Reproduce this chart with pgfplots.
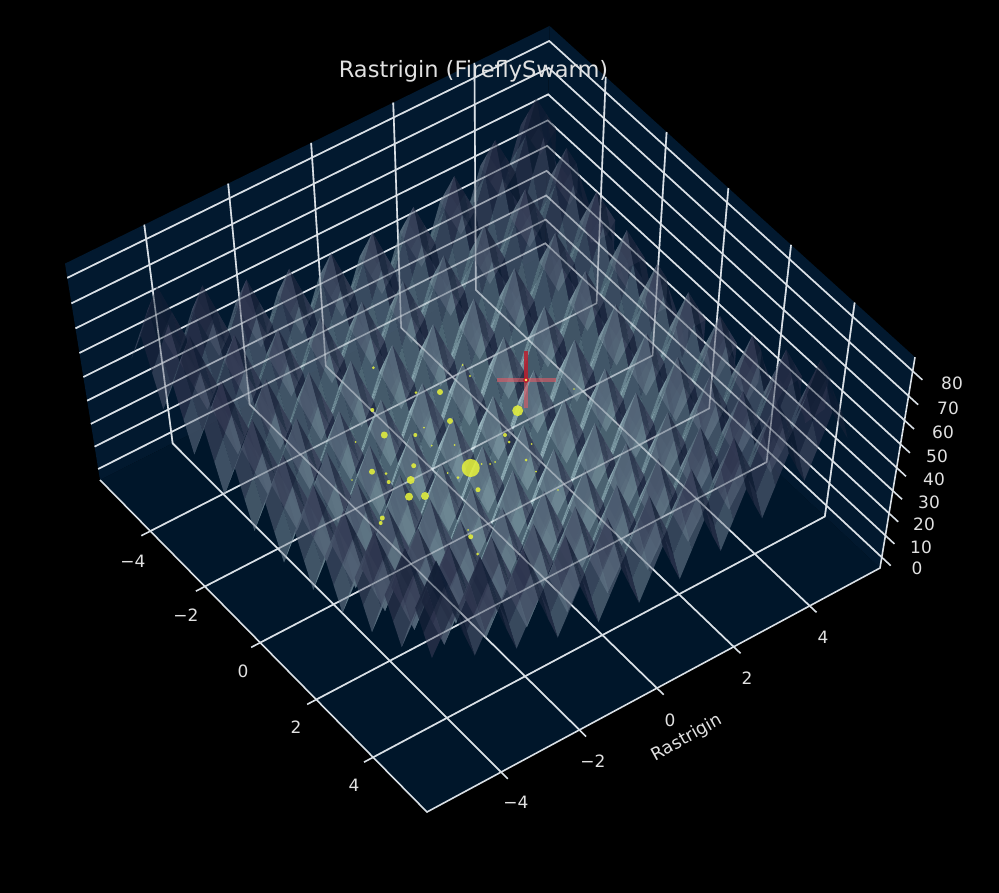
\documentclass[border=0pt]{standalone}
\usepackage{fontspec}
\setmainfont{DejaVu Sans}
\usepackage{pgfplots}
\usepackage{pgfplotstable}
\pgfplotsset{compat=1.18}
\definecolor{pfloor}{RGB}{0,22,42}
\definecolor{pwall}{RGB}{2,25,47}
\definecolor{gl}{RGB}{218,224,230}
\definecolor{txt}{RGB}{225,225,225}
\definecolor{ffy}{RGB}{228,240,60}
\definecolor{crossa}{RGB}{185,30,45}
\definecolor{crossb}{RGB}{225,90,100}
\pgfplotstableread{z
50
57.6
65.3
53.1
41
49.1
57.3
45.6
34
42.6
51.3
40.1
29
38.1
47.3
36.6
26
35.6
45.3
35.1
25
35.1
45.3
35.6
26
36.6
47.3
38.1
29
40.1
51.3
42.6
34
45.6
57.3
49.1
41
53.1
65.3
57.6
50
57.6
65.2
72.9
60.7
48.6
56.7
64.9
53.2
41.6
50.2
58.9
47.7
36.6
45.7
54.9
44.2
33.6
43.2
52.9
42.7
32.6
42.7
52.9
43.2
33.6
44.2
54.9
45.7
36.6
47.7
58.9
50.2
41.6
53.2
64.9
56.7
48.6
60.7
72.9
65.2
57.6
65.3
72.9
80.6
68.4
56.3
64.4
72.6
60.9
49.3
57.9
66.6
55.4
44.3
53.4
62.6
51.9
41.3
50.9
60.6
50.4
40.3
50.4
60.6
50.9
41.3
51.9
62.6
53.4
44.3
55.4
66.6
57.9
49.3
60.9
72.6
64.4
56.3
68.4
80.6
72.9
65.3
53.1
60.7
68.4
56.2
44.1
52.2
60.4
48.7
37.1
45.7
54.4
43.2
32.1
41.2
50.4
39.7
29.1
38.7
48.4
38.2
28.1
38.2
48.4
38.7
29.1
39.7
50.4
41.2
32.1
43.2
54.4
45.7
37.1
48.7
60.4
52.2
44.1
56.2
68.4
60.7
53.1
41
48.6
56.3
44.1
32
40.1
48.3
36.6
25
33.6
42.3
31.1
20
29.1
38.3
27.6
17
26.6
36.3
26.1
16
26.1
36.3
26.6
17
27.6
38.3
29.1
20
31.1
42.3
33.6
25
36.6
48.3
40.1
32
44.1
56.3
48.6
41
49.1
56.7
64.4
52.2
40.1
48.2
56.4
44.7
33.1
41.7
50.4
39.2
28.1
37.2
46.4
35.7
25.1
34.7
44.4
34.2
24.1
34.2
44.4
34.7
25.1
35.7
46.4
37.2
28.1
39.2
50.4
41.7
33.1
44.7
56.4
48.2
40.1
52.2
64.4
56.7
49.1
57.3
64.9
72.6
60.4
48.3
56.4
64.6
52.9
41.3
49.9
58.6
47.4
36.3
45.4
54.6
43.9
33.3
42.9
52.6
42.4
32.3
42.4
52.6
42.9
33.3
43.9
54.6
45.4
36.3
47.4
58.6
49.9
41.3
52.9
64.6
56.4
48.3
60.4
72.6
64.9
57.3
45.6
53.2
60.9
48.7
36.6
44.7
52.9
41.2
29.6
38.2
46.9
35.7
24.6
33.7
42.9
32.2
21.6
31.2
40.9
30.7
20.6
30.7
40.9
31.2
21.6
32.2
42.9
33.7
24.6
35.7
46.9
38.2
29.6
41.2
52.9
44.7
36.6
48.7
60.9
53.2
45.6
34
41.6
49.3
37.1
25
33.1
41.3
29.6
18
26.6
35.3
24.1
13
22.1
31.3
20.6
10
19.6
29.3
19.1
9
19.1
29.3
19.6
10
20.6
31.3
22.1
13
24.1
35.3
26.6
18
29.6
41.3
33.1
25
37.1
49.3
41.6
34
42.6
50.2
57.9
45.7
33.6
41.7
49.9
38.2
26.6
35.2
43.9
32.7
21.6
30.7
39.9
29.2
18.6
28.2
37.9
27.7
17.6
27.7
37.9
28.2
18.6
29.2
39.9
30.7
21.6
32.7
43.9
35.2
26.6
38.2
49.9
41.7
33.6
45.7
57.9
50.2
42.6
51.3
58.9
66.6
54.4
42.3
50.4
58.6
46.9
35.3
43.9
52.6
41.4
30.3
39.4
48.6
37.9
27.3
36.9
46.6
36.4
26.3
36.4
46.6
36.9
27.3
37.9
48.6
39.4
30.3
41.4
52.6
43.9
35.3
46.9
58.6
50.4
42.3
54.4
66.6
58.9
51.3
40.1
47.7
55.4
43.2
31.1
39.2
47.4
35.7
24.1
32.7
41.4
30.2
19.1
28.2
37.4
26.7
16.1
25.7
35.4
25.2
15.1
25.2
35.4
25.7
16.1
26.7
37.4
28.2
19.1
30.2
41.4
32.7
24.1
35.7
47.4
39.2
31.1
43.2
55.4
47.7
40.1
29
36.6
44.3
32.1
20
28.1
36.3
24.6
13
21.6
30.3
19.1
8
17.1
26.3
15.6
5
14.6
24.3
14.1
4
14.1
24.3
14.6
5
15.6
26.3
17.1
8
19.1
30.3
21.6
13
24.6
36.3
28.1
20
32.1
44.3
36.6
29
38.1
45.7
53.4
41.2
29.1
37.2
45.4
33.7
22.1
30.7
39.4
28.2
17.1
26.2
35.4
24.7
14.1
23.7
33.4
23.2
13.1
23.2
33.4
23.7
14.1
24.7
35.4
26.2
17.1
28.2
39.4
30.7
22.1
33.7
45.4
37.2
29.1
41.2
53.4
45.7
38.1
47.3
54.9
62.6
50.4
38.3
46.4
54.6
42.9
31.3
39.9
48.6
37.4
26.3
35.4
44.6
33.9
23.3
32.9
42.6
32.4
22.3
32.4
42.6
32.9
23.3
33.9
44.6
35.4
26.3
37.4
48.6
39.9
31.3
42.9
54.6
46.4
38.3
50.4
62.6
54.9
47.3
36.6
44.2
51.9
39.7
27.6
35.7
43.9
32.2
20.6
29.2
37.9
26.7
15.6
24.7
33.9
23.2
12.6
22.2
31.9
21.7
11.6
21.7
31.9
22.2
12.6
23.2
33.9
24.7
15.6
26.7
37.9
29.2
20.6
32.2
43.9
35.7
27.6
39.7
51.9
44.2
36.6
26
33.6
41.3
29.1
17
25.1
33.3
21.6
10
18.6
27.3
16.1
5
14.1
23.3
12.6
2
11.6
21.3
11.1
1
11.1
21.3
11.6
2
12.6
23.3
14.1
5
16.1
27.3
18.6
10
21.6
33.3
25.1
17
29.1
41.3
33.6
26
35.6
43.2
50.9
38.7
26.6
34.7
42.9
31.2
19.6
28.2
36.9
25.7
14.6
23.7
32.9
22.2
11.6
21.2
30.9
20.7
10.6
20.7
30.9
21.2
11.6
22.2
32.9
23.7
14.6
25.7
36.9
28.2
19.6
31.2
42.9
34.7
26.6
38.7
50.9
43.2
35.6
45.3
52.9
60.6
48.4
36.3
44.4
52.6
40.9
29.3
37.9
46.6
35.4
24.3
33.4
42.6
31.9
21.3
30.9
40.6
30.4
20.3
30.4
40.6
30.9
21.3
31.9
42.6
33.4
24.3
35.4
46.6
37.9
29.3
40.9
52.6
44.4
36.3
48.4
60.6
52.9
45.3
35.1
42.7
50.4
38.2
26.1
34.2
42.4
30.7
19.1
27.7
36.4
25.2
14.1
23.2
32.4
21.7
11.1
20.7
30.4
20.2
10.1
20.2
30.4
20.7
11.1
21.7
32.4
23.2
14.1
25.2
36.4
27.7
19.1
30.7
42.4
34.2
26.1
38.2
50.4
42.7
35.1
25
32.6
40.3
28.1
16
24.1
32.3
20.6
9
17.6
26.3
15.1
4
13.1
22.3
11.6
1
10.6
20.3
10.1
0
10.1
20.3
10.6
1
11.6
22.3
13.1
4
15.1
26.3
17.6
9
20.6
32.3
24.1
16
28.1
40.3
32.6
25
35.1
42.7
50.4
38.2
26.1
34.2
42.4
30.7
19.1
27.7
36.4
25.2
14.1
23.2
32.4
21.7
11.1
20.7
30.4
20.2
10.1
20.2
30.4
20.7
11.1
21.7
32.4
23.2
14.1
25.2
36.4
27.7
19.1
30.7
42.4
34.2
26.1
38.2
50.4
42.7
35.1
45.3
52.9
60.6
48.4
36.3
44.4
52.6
40.9
29.3
37.9
46.6
35.4
24.3
33.4
42.6
31.9
21.3
30.9
40.6
30.4
20.3
30.4
40.6
30.9
21.3
31.9
42.6
33.4
24.3
35.4
46.6
37.9
29.3
40.9
52.6
44.4
36.3
48.4
60.6
52.9
45.3
35.6
43.2
50.9
38.7
26.6
34.7
42.9
31.2
19.6
28.2
36.9
25.7
14.6
23.7
32.9
22.2
11.6
21.2
30.9
20.7
10.6
20.7
30.9
21.2
11.6
22.2
32.9
23.7
14.6
25.7
36.9
28.2
19.6
31.2
42.9
34.7
26.6
38.7
50.9
43.2
35.6
26
33.6
41.3
29.1
17
25.1
33.3
21.6
10
18.6
27.3
16.1
5
14.1
23.3
12.6
2
11.6
21.3
11.1
1
11.1
21.3
11.6
2
12.6
23.3
14.1
5
16.1
27.3
18.6
10
21.6
33.3
25.1
17
29.1
41.3
33.6
26
36.6
44.2
51.9
39.7
27.6
35.7
43.9
32.2
20.6
29.2
37.9
26.7
15.6
24.7
33.9
23.2
12.6
22.2
31.9
21.7
11.6
21.7
31.9
22.2
12.6
23.2
33.9
24.7
15.6
26.7
37.9
29.2
20.6
32.2
43.9
35.7
27.6
39.7
51.9
44.2
36.6
47.3
54.9
62.6
50.4
38.3
46.4
54.6
42.9
31.3
39.9
48.6
37.4
26.3
35.4
44.6
33.9
23.3
32.9
42.6
32.4
22.3
32.4
42.6
32.9
23.3
33.9
44.6
35.4
26.3
37.4
48.6
39.9
31.3
42.9
54.6
46.4
38.3
50.4
62.6
54.9
47.3
38.1
45.7
53.4
41.2
29.1
37.2
45.4
33.7
22.1
30.7
39.4
28.2
17.1
26.2
35.4
24.7
14.1
23.7
33.4
23.2
13.1
23.2
33.4
23.7
14.1
24.7
35.4
26.2
17.1
28.2
39.4
30.7
22.1
33.7
45.4
37.2
29.1
41.2
53.4
45.7
38.1
29
36.6
44.3
32.1
20
28.1
36.3
24.6
13
21.6
30.3
19.1
8
17.1
26.3
15.6
5
14.6
24.3
14.1
4
14.1
24.3
14.6
5
15.6
26.3
17.1
8
19.1
30.3
21.6
13
24.6
36.3
28.1
20
32.1
44.3
36.6
29
40.1
47.7
55.4
43.2
31.1
39.2
47.4
35.7
24.1
32.7
41.4
30.2
19.1
28.2
37.4
26.7
16.1
25.7
35.4
25.2
15.1
25.2
35.4
25.7
16.1
26.7
37.4
28.2
19.1
30.2
41.4
32.7
24.1
35.7
47.4
39.2
31.1
43.2
55.4
47.7
40.1
51.3
58.9
66.6
54.4
42.3
50.4
58.6
46.9
35.3
43.9
52.6
41.4
30.3
39.4
48.6
37.9
27.3
36.9
46.6
36.4
26.3
36.4
46.6
36.9
27.3
37.9
48.6
39.4
30.3
41.4
52.6
43.9
35.3
46.9
58.6
50.4
42.3
54.4
66.6
58.9
51.3
42.6
50.2
57.9
45.7
33.6
41.7
49.9
38.2
26.6
35.2
43.9
32.7
21.6
30.7
39.9
29.2
18.6
28.2
37.9
27.7
17.6
27.7
37.9
28.2
18.6
29.2
39.9
30.7
21.6
32.7
43.9
35.2
26.6
38.2
49.9
41.7
33.6
45.7
57.9
50.2
42.6
34
41.6
49.3
37.1
25
33.1
41.3
29.6
18
26.6
35.3
24.1
13
22.1
31.3
20.6
10
19.6
29.3
19.1
9
19.1
29.3
19.6
10
20.6
31.3
22.1
13
24.1
35.3
26.6
18
29.6
41.3
33.1
25
37.1
49.3
41.6
34
45.6
53.2
60.9
48.7
36.6
44.7
52.9
41.2
29.6
38.2
46.9
35.7
24.6
33.7
42.9
32.2
21.6
31.2
40.9
30.7
20.6
30.7
40.9
31.2
21.6
32.2
42.9
33.7
24.6
35.7
46.9
38.2
29.6
41.2
52.9
44.7
36.6
48.7
60.9
53.2
45.6
57.3
64.9
72.6
60.4
48.3
56.4
64.6
52.9
41.3
49.9
58.6
47.4
36.3
45.4
54.6
43.9
33.3
42.9
52.6
42.4
32.3
42.4
52.6
42.9
33.3
43.9
54.6
45.4
36.3
47.4
58.6
49.9
41.3
52.9
64.6
56.4
48.3
60.4
72.6
64.9
57.3
49.1
56.7
64.4
52.2
40.1
48.2
56.4
44.7
33.1
41.7
50.4
39.2
28.1
37.2
46.4
35.7
25.1
34.7
44.4
34.2
24.1
34.2
44.4
34.7
25.1
35.7
46.4
37.2
28.1
39.2
50.4
41.7
33.1
44.7
56.4
48.2
40.1
52.2
64.4
56.7
49.1
41
48.6
56.3
44.1
32
40.1
48.3
36.6
25
33.6
42.3
31.1
20
29.1
38.3
27.6
17
26.6
36.3
26.1
16
26.1
36.3
26.6
17
27.6
38.3
29.1
20
31.1
42.3
33.6
25
36.6
48.3
40.1
32
44.1
56.3
48.6
41
53.1
60.7
68.4
56.2
44.1
52.2
60.4
48.7
37.1
45.7
54.4
43.2
32.1
41.2
50.4
39.7
29.1
38.7
48.4
38.2
28.1
38.2
48.4
38.7
29.1
39.7
50.4
41.2
32.1
43.2
54.4
45.7
37.1
48.7
60.4
52.2
44.1
56.2
68.4
60.7
53.1
65.3
72.9
80.6
68.4
56.3
64.4
72.6
60.9
49.3
57.9
66.6
55.4
44.3
53.4
62.6
51.9
41.3
50.9
60.6
50.4
40.3
50.4
60.6
50.9
41.3
51.9
62.6
53.4
44.3
55.4
66.6
57.9
49.3
60.9
72.6
64.4
56.3
68.4
80.6
72.9
65.3
57.6
65.2
72.9
60.7
48.6
56.7
64.9
53.2
41.6
50.2
58.9
47.7
36.6
45.7
54.9
44.2
33.6
43.2
52.9
42.7
32.6
42.7
52.9
43.2
33.6
44.2
54.9
45.7
36.6
47.7
58.9
50.2
41.6
53.2
64.9
56.7
48.6
60.7
72.9
65.2
57.6
50
57.6
65.3
53.1
41
49.1
57.3
45.6
34
42.6
51.3
40.1
29
38.1
47.3
36.6
26
35.6
45.3
35.1
25
35.1
45.3
35.6
26
36.6
47.3
38.1
29
40.1
51.3
42.6
34
45.6
57.3
49.1
41
53.1
65.3
57.6
50
}\surfdata
\pgfplotstablecreatecol[expr={0}]{d}\surfdata
\pgfplotsset{/pgfplots/table/proj/.style={x expr={px(\thisrow{x},\thisrow{y},\thisrow{z})},y expr={py(\thisrow{x},\thisrow{y},\thisrow{z})}}}
\begin{document}
\begin{tikzpicture}
\begin{axis}[
  at={(0,0)},anchor=south west,
  scale only axis,width=999pt,height=893pt,
  xmin=0,xmax=999,ymin=0,ymax=893,y dir=reverse,
  axis lines=none,
  clip=true,
  colormap={shadebone}{rgb255(0pt)=(12,28,52); rgb255(100pt)=(18,30,52); rgb255(200pt)=(48,54,80); rgb255(330pt)=(82,98,118); rgb255(490pt)=(106,132,144); rgb255(750pt)=(192,225,230); rgb255(1000pt)=(240,250,250)},
  point meta min=0,point meta max=1,
  declare function={
    ss(\x)=(\x/5.87+1)/2;
    zz(\z)=(\z+5)/90.5;
    wd(\x,\y,\z)=1-0.03968*ss(\x)+0.02977*ss(\y)-0.08194*zz(\z);
    px(\x,\y,\z)=(100+310.06*ss(\x)+461.22*ss(\y)-40.33*zz(\z))/wd(\x,\y,\z);
    py(\x,\y,\z)=(480+299.78*ss(\x)-217.41*ss(\y)-238*zz(\z))/wd(\x,\y,\z);
    gx(\i)=-5.12+0.256*floor(\i/41);
    gy(\i)=5.12-0.256*mod(\i,41);
    hx(\i)=-5+0.25*floor(\i/41);
    hy(\i)=5-0.25*mod(\i,41);
    bri(\i)=0.65+0.33*(sin(360*hx(\i))+sin(360*hy(\i)));
    tt(\z)=max(0,1-\z/82);
  },
]
\addplot[fill=black,draw=none] coordinates {(0,0)(999,0)(999,893)(0,893)} --cycle;
% panes
\addplot[fill=pfloor,draw=none] table[proj] {
x y z
-5.87 -5.87 -5
5.87 -5.87 -5
5.87 5.87 -5
-5.87 5.87 -5
} --cycle;
\addplot[fill=pwall,draw=none] table[proj] {
x y z
-5.87 -5.87 -5
-5.87 5.87 -5
-5.87 5.87 85.5
-5.87 -5.87 85.5
} --cycle;
\addplot[fill=pwall,draw=none] table[proj] {
x y z
-5.87 5.87 -5
5.87 5.87 -5
5.87 5.87 85.5
-5.87 5.87 85.5
} --cycle;
% grid
\pgfplotsinvokeforeach{-4,-2,0,2,4}{
\addplot[gl,line width=1.6pt] table[proj,row sep=\\] {x y z\\ #1 -6.1 -5\\ #1 5.87 -5\\ #1 5.87 85.5\\};
\addplot[gl,line width=1.6pt] table[proj,row sep=\\] {x y z\\ 6.1 #1 -5\\ -5.87 #1 -5\\ -5.87 #1 85.5\\};
}
\pgfplotsinvokeforeach{0,10,20,30,40,50,60,70,80}{
\addplot[gl,line width=1.6pt] table[proj,row sep=\\] {x y z\\ -5.87 -5.87 #1\\ -5.87 5.87 #1\\ 5.87 5.87 #1\\ 6.17 5.87 #1\\};
}
\addplot[gl,line width=1.6pt] table[proj] {
x y z
-5.87 -5.87 -5
5.87 -5.87 -5
5.87 5.87 -5
5.87 5.87 85.5
};
% surface
\addplot[surf,mesh/rows=41,mesh/cols=41,shader=flat mean,fill opacity=0.72,draw opacity=0,
  point meta={bri(\coordindex)*tt(\thisrow{z})}]
  table[x expr={px(gx(\coordindex),gy(\coordindex),\thisrow{z})},y expr={py(gx(\coordindex),gy(\coordindex),\thisrow{z})}] {\surfdata};
% grid seen through the surface
\pgfplotsinvokeforeach{-4,-2,0,2,4}{
\addplot[gl,opacity=0.5,line width=1.6pt] table[proj,row sep=\\] {x y z\\ #1 -5.87 -5\\ #1 5.87 -5\\ #1 5.87 85.5\\};
\addplot[gl,opacity=0.5,line width=1.6pt] table[proj,row sep=\\] {x y z\\ 5.87 #1 -5\\ -5.87 #1 -5\\ -5.87 #1 85.5\\};
}
\pgfplotsinvokeforeach{0,10,20,30,40,50,60,70,80}{
\addplot[gl,opacity=0.5,line width=1.6pt] table[proj,row sep=\\] {x y z\\ -5.87 -5.87 #1\\ -5.87 5.87 #1\\ 5.87 5.87 #1\\};
}
% fireflies (image positions)
\addplot[scatter,only marks,mark=*,fill opacity=0.88,draw opacity=0,
  scatter/use mapped color={draw=none,fill=ffy},
  visualization depends on={\thisrow{r}\as\rr},
  scatter/@pre marker code/.append style={/tikz/mark size=\rr pt}]
  table {
x y r
470.7 468 9
517.7 410.7 5.5
425 496 4
410.7 480 4
409 496.7 4
384.3 435 3.5
372 471.7 3
450 421 3
440 392 3
415.3 435 2
413.7 465.7 2.5
388.7 482 2
386 473.7 1.5
382.3 518 2.5
380.7 523 2
372.3 410 2
373.3 367.7 1.5
416 392.7 1.5
462.7 365 1
470 376 1.2
478 489.7 2.5
470.7 536.7 2.5
477.7 554 1.5
468 530 1
505 435 2
509 442 1.5
490 464 1
495 462 1
481.7 464 1
526 460 1.5
536 471.7 1
531.7 444 1
458 477.7 1.5
447.7 473 1
431.7 445.7 1
355.7 442 1
424 427.7 1
454.7 445 1
574 389 0.8
558 490 0.8
352 480 0.8
};
% best marker
\addplot[crossa,opacity=0.85,line width=4.5pt] coordinates {(526,351)(526,380)};
\addplot[crossb,opacity=0.6,line width=4.5pt] coordinates {(526,380)(526,408)};
\addplot[crossb,opacity=0.6,line width=4pt] coordinates {(497,380)(556,380)};
\addplot[only marks,mark=*,mark size=2.6pt,crossa] coordinates {(526,380)};
\addplot[only marks,mark=*,mark size=1.2pt,yellow!60!white] coordinates {(526,380)};
% text
\node[txt,font=\fontsize{22.5}{25}\selectfont] at (axis cs:473.5,71) {Rastrigin (FireflySwarm)};
\node[txt,font=\fontsize{17.5}{20}\selectfont,rotate=29] at (axis cs:687,738) {Rastrigin};
\foreach \a/\b/\t in {133/561/−4,186/615/−2,243/671/0,296/727/2,354/785/4,516/802/−4,593/761/−2,670/720/0,747/678/2,823/637/4,
 917/568/0,921/547/10,924/524/20,929/502/30,934/479/40,937/456/50,943/432/60,948/408/70,952/383/80}{
  \edef\tmp{\noexpand\node[txt,font=\noexpand\fontsize{17}{20}\noexpand\selectfont] at (axis cs:\a,\b) {\t};}\tmp
}
\end{axis}
\end{tikzpicture}
\end{document}
